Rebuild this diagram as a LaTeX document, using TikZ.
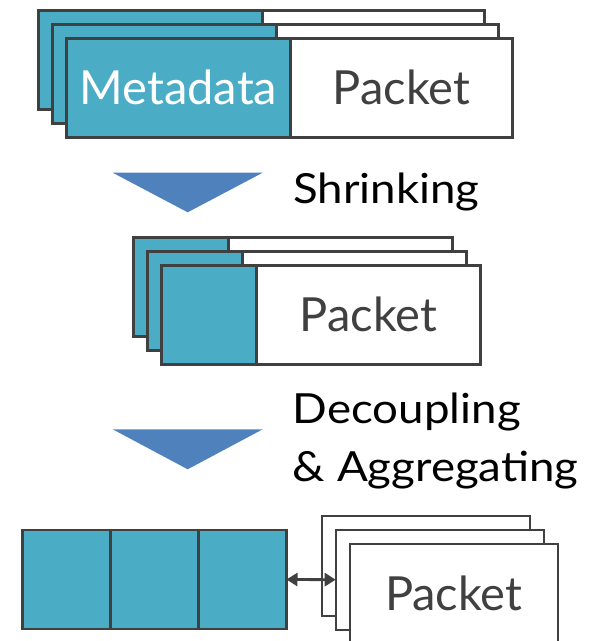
\documentclass[tikz,border=0pt]{standalone}
\usepackage{fontspec}
\setmainfont{Lato}
\newfontfamily\stepfont{Lato}[FakeStretch=1.1]
\usetikzlibrary{arrows.meta}
\definecolor{teal}{HTML}{4BACC6}
\definecolor{edge}{HTML}{404040}
\definecolor{stepblue}{HTML}{4F81BD}
\begin{document}
\begin{tikzpicture}[x=1pt,y=-1pt,
  box/.style={draw=edge,line width=2.2pt,rectangle,inner sep=0pt,outer sep=0pt,anchor=north west},
  meta/.style={box,fill=teal},
  pkt/.style={box,fill=white},
  boxlabel/.style={font=\fontsize{47}{47}\selectfont},
  steplabel/.style={font=\stepfont\fontsize{41.5}{41.5}\selectfont,anchor=base west,inner sep=0pt},
  steparrow/.style={fill=stepblue}]
\useasboundingbox (0,0) rectangle (599,641);

% --- full packets: metadata + payload, three deep
\foreach \i in {0,1,2}{
  \node[meta,minimum width=224pt,minimum height=99pt] (m\i) at (38.5+14*\i,10.5+14*\i) {};
  \node[pkt,minimum width=222pt,minimum height=99pt] (p\i) at (m\i.north east) {};
}
\node[boxlabel,text=white] (mlab) at ([yshift=1pt]m2.center) {Metadata};
\node[boxlabel,text=edge] (plab) at ([yshift=1pt]p2.center) {Packet};

% --- step 1
\fill[steparrow] (112.7,172.7) -- (262.7,172.7) -- (187.7,212.3) -- cycle;
\node[steplabel] (s1) at (293,203) {Shrinking};

% --- shrunk packets
\foreach \i in {0,1,2}{
  \node[meta,minimum width=95pt,minimum height=99pt] (n\i) at (133.5+14*\i,237.5+14*\i) {};
  \node[pkt,minimum width=224pt,minimum height=99pt] (q\i) at (n\i.north east) {};
}
\node[boxlabel,text=edge] (qlab) at ([yshift=1pt]q2.center) {Packet};

% --- step 2
\fill[steparrow] (112.7,429.3) -- (262.7,429.3) -- (187.7,469.3) -- cycle;
\node[steplabel] (s2a) at (292.7,423.3) {Decoupling};
\node[steplabel] (s2b) at (292.7,481.7) {\& Aggregating};

% --- aggregated metadata and decoupled packets
\foreach \i in {0,1,2}{
  \node[meta,minimum width=88pt,minimum height=99pt] (d\i) at (22.5+88*\i,530) {};
}
\foreach \i in {0,1,2}{
  \node[pkt,minimum width=208pt,minimum height=100pt] (r\i) at (321.7+14*\i,515.7+14*\i) {};
}
\node[boxlabel,text=edge] (rlab) at (r2.center) {Packet};

\draw[edge,line width=2.8pt,{Triangle[length=11pt,width=13pt]}-{Triangle[length=11pt,width=13pt]}] (d2.east) -- (r1.west);
\end{tikzpicture}
\end{document}
